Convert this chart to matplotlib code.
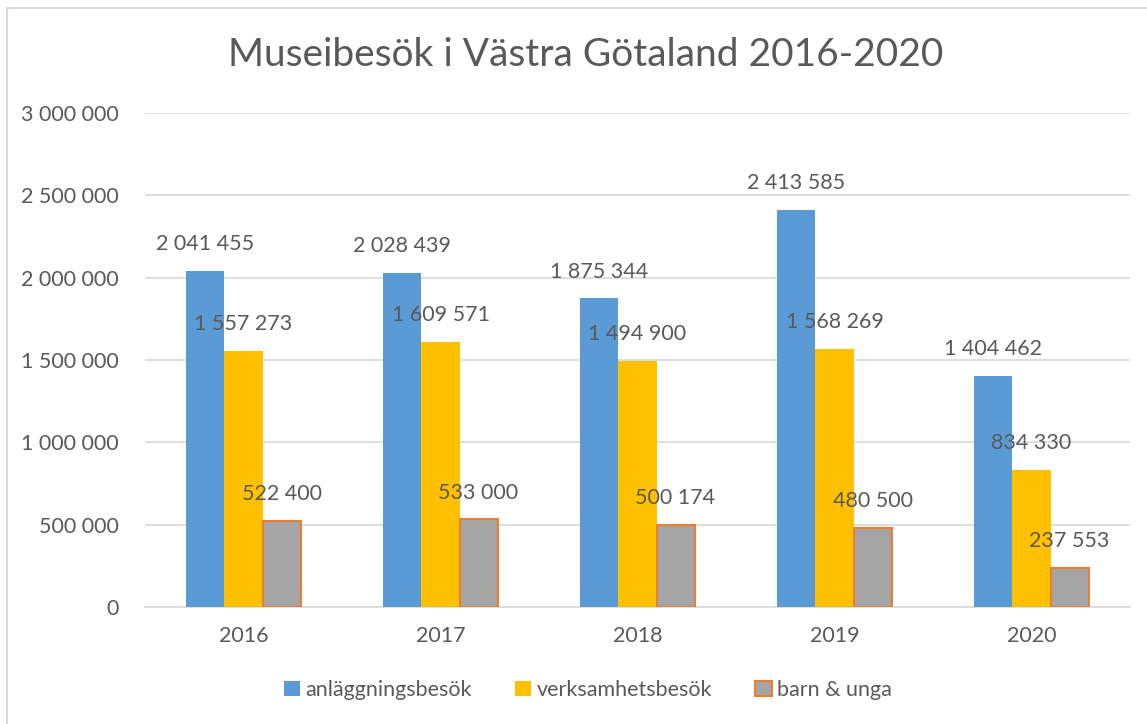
import matplotlib

matplotlib.use("Agg")
import matplotlib.pyplot as plt
import numpy as np
from matplotlib.patches import Rectangle

years = ["2016", "2017", "2018", "2019", "2020"]
anlaggning = [2041455, 2028439, 1875344, 2413585, 1404462]
verksamhet = [1557273, 1609571, 1494900, 1568269, 834330]
barn_unga = [522400, 533000, 500174, 480500, 237553]

series_names = ["anläggningsbesök", "verksamhetsbesök", "barn & unga"]
yticks = [0, 500000, 1000000, 1500000, 2000000, 2500000, 3000000]

TEXT = "#595959"
plt.rcParams["font.family"] = ["Lato", "DejaVu Sans"]


def fmt(v):
    return f"{v:,}".replace(",", " ")


fig = plt.figure(figsize=(11.47, 7.24), dpi=100)
fig.patch.set_facecolor("white")

# chart frame (only left/top edges visible in the crop)
frame = Rectangle((7 / 1147, -0.1), 1.2, 1.1 - 8 / 724,
                  transform=fig.transFigure, fill=False,
                  edgecolor="#d9d9d9", linewidth=1.5)
fig.patches.append(frame)

ax = fig.add_axes([145 / 1147, 1 - 607 / 724, 985 / 1147, 494 / 724])

x = np.arange(len(years))
w = 0.193
styles = [
    dict(color="#5B9BD5", edgecolor="none"),
    dict(color="#FFC000", edgecolor="none"),
    dict(color="#A5A5A5", edgecolor="#ED7D31", linewidth=1.5),
]
data = [anlaggning, verksamhet, barn_unga]
for i, (vals, name, st) in enumerate(zip(data, series_names, styles)):
    pos = x + (i - 1) * w
    ax.bar(pos, vals, w, label=name, zorder=3, **st)
    for px, v in zip(pos, vals):
        ax.annotate(fmt(v), (px, v), xytext=(0, 12), textcoords="offset points",
                    ha="center", va="bottom", fontsize=15.5, color=TEXT, zorder=4)

ax.set_xlim(-0.5, len(years) - 0.5)
ax.set_ylim(0, 3000000)
ax.set_yticks(yticks)
ax.set_yticklabels([fmt(t) for t in yticks])
ax.set_xticks(x)
ax.set_xticklabels(years)
ax.tick_params(axis="both", length=0, labelsize=15.5, labelcolor=TEXT)
ax.tick_params(axis="y", pad=19)
ax.tick_params(axis="x", pad=14)
ax.grid(axis="y", color="#d9d9d9", linewidth=1.2, zorder=0)
for s in ["top", "right", "left"]:
    ax.spines[s].set_visible(False)
ax.spines["bottom"].set_color("#d9d9d9")
ax.spines["bottom"].set_linewidth(1.2)

fig.text(586 / 1147, 1 - 55 / 724, "Museibesök i Västra Götaland 2016-2020",
         ha="center", va="center", fontsize=28, color=TEXT)

leg = ax.legend(loc="center", bbox_to_anchor=((588 - 145) / 985, (607 - 690) / 494),
                ncol=3, frameon=False, fontsize=15.5, handlelength=0.75,
                handleheight=0.75, handletextpad=0.25, columnspacing=2.0,
                labelcolor=TEXT)

fig.savefig("out.png", dpi=100, facecolor="white")
